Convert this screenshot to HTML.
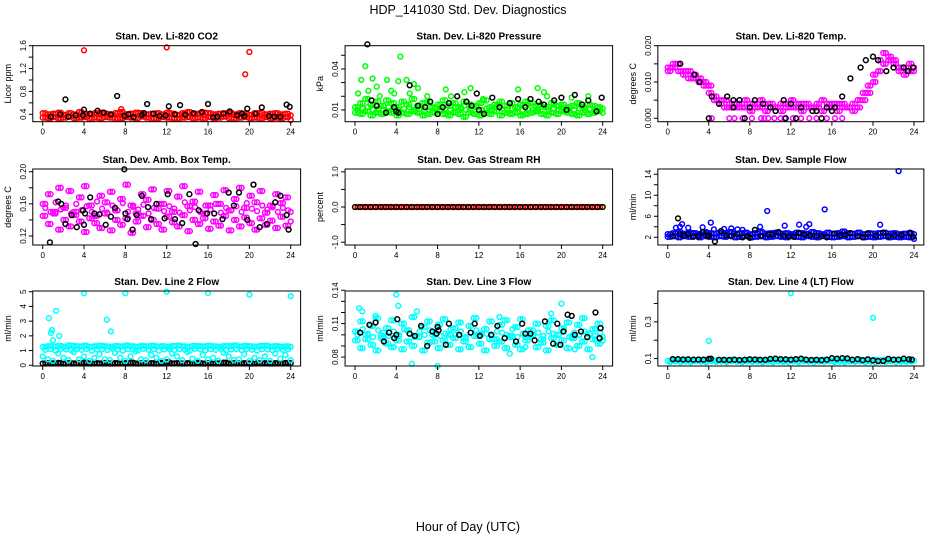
<!DOCTYPE html>
<html><head><meta charset="utf-8"><style>
html,body{margin:0;padding:0;background:#fff;}
svg{display:block;font-family:"Liberation Sans",sans-serif;}
</style></head><body>
<svg id="chart" width="936" height="540" viewBox="0 0 936 540" xmlns="http://www.w3.org/2000/svg">
<text x="468" y="14" text-anchor="middle" font-size="12.5">HDP_141030  Std. Dev. Diagnostics</text>
<text x="468" y="531" text-anchor="middle" font-size="12.5">Hour of Day (UTC)</text>
</svg>
<script>
const xTicks=[0,4,8,12,16,20,24];
// Panel 1 CO2
const co2RedA=[0.42,0.40,0.41,0.43,0.39,0.42,0.40,0.44,0.41,0.40,0.42,0.43,0.41,0.39,0.42,0.44,0.40,0.41,0.43,0.42,0.40,0.41,0.42,0.40,0.43,0.41,0.39,0.42,0.44,0.40,0.41,0.43,0.42,0.40,0.41,0.42,0.43,0.40,0.42,0.41,0.39,0.42,0.43,0.40,0.41,0.42,0.40,0.41,0.38];
const co2RedB=[0.34,0.33,0.35,0.32,0.34,0.36,0.33,0.34,0.35,0.32,0.34,0.33,0.35,0.34,0.32,0.33,0.35,0.34,0.33,0.36,0.34,0.32,0.33,0.35,0.34,0.33,0.32,0.34,0.35,0.33,0.34,0.32,0.35,0.33,0.34,0.36,0.33,0.32,0.34,0.35,0.33,0.34,0.32,0.35,0.33,0.34,0.33,0.35,0.30];
const co2OutH=[4,12,19.6,20,7.6];
const co2OutV=[1.52,1.57,1.1,1.49,0.49];
const co2BlackH=[0.8,1.7,2.2,2.5,3.2,3.9,4.0,4.6,5.3,5.9,6.6,7.2,7.9,8.3,8.8,9.6,9.8,10.1,10.7,11.3,11.9,12.2,12.8,13.3,13.8,14.6,15.4,16.0,16.5,16.9,17.5,18.1,18.8,19.3,19.5,19.8,20.6,21.2,21.9,22.4,23.0,23.6,23.9];
const co2BlackV=[0.36,0.40,0.66,0.36,0.38,0.38,0.48,0.41,0.46,0.43,0.40,0.72,0.37,0.40,0.35,0.39,0.42,0.58,0.41,0.37,0.38,0.54,0.40,0.56,0.39,0.42,0.44,0.58,0.35,0.36,0.41,0.45,0.38,0.41,0.37,0.50,0.41,0.52,0.37,0.36,0.36,0.57,0.53];
// Panel 2 pressure
const presGreenA=[0.012,0.015,0.018,0.014,0.016,0.013,0.017,0.015,0.012,0.016,0.014,0.018,0.013,0.015,0.016,0.012,0.014,0.017,0.013,0.015,0.012,0.016,0.014,0.013,0.015,0.017,0.012,0.014,0.016,0.013,0.015,0.012,0.014,0.016,0.015,0.013,0.014,0.012,0.015,0.013,0.014,0.012,0.013,0.015,0.012,0.014,0.013,0.012,0.011];
const presGreenB=[0.008,0.007,0.009,0.006,0.008,0.007,0.009,0.008,0.006,0.008,0.007,0.009,0.008,0.006,0.007,0.008,0.009,0.007,0.006,0.008,0.007,0.005,0.008,0.007,0.006,0.008,0.007,0.009,0.006,0.008,0.007,0.008,0.006,0.007,0.008,0.009,0.007,0.006,0.008,0.007,0.009,0.008,0.007,0.006,0.008,0.007,0.008,0.009,0.008];
const presGreenMid=[0.010,0.011,0.012,0.010,0.011,0.010,0.012,0.011,0.010,0.011,0.012,0.010,0.011,0.010,0.012,0.011,0.010,0.011,0.010,0.012,0.011,0.010,0.011,0.012,0.010,0.011,0.010,0.012,0.011,0.010,0.011,0.012,0.010,0.011,0.010,0.011,0.012,0.010,0.011,0.010,0.011,0.012,0.010,0.011,0.010,0.011,0.010,0.011];
const presGreenCH=[0.3,0.6,1.0,1.3,1.7,2.1,2.4,3.1,3.5,3.8,4.2,4.4,5.0,5.3,5.7,6.1,7.0,8.8,9.3,10.6,11.2,12.4,15.8,17.7,18.3,18.6,21.0,22.6];
const presGreenCV=[0.022,0.032,0.042,0.024,0.033,0.027,0.020,0.032,0.024,0.022,0.031,0.049,0.032,0.022,0.029,0.026,0.020,0.025,0.020,0.023,0.026,0.018,0.025,0.026,0.023,0.020,0.019,0.020];
const presBlackH=[1.2,1.6,2.1,3.0,3.8,4.0,4.2,5.3,6.1,6.8,7.3,8.0,8.5,9.1,9.9,10.8,11.3,11.8,12.0,12.5,13.3,14.0,15.0,15.8,16.5,17.0,17.8,18.3,19.3,20.0,20.5,21.3,22.0,22.6,23.4,23.9];
const presBlackV=[0.058,0.017,0.013,0.008,0.012,0.009,0.008,0.028,0.013,0.012,0.016,0.007,0.012,0.015,0.020,0.016,0.013,0.022,0.010,0.007,0.019,0.012,0.015,0.018,0.012,0.018,0.016,0.014,0.017,0.019,0.010,0.021,0.014,0.017,0.009,0.019];
// Panel 3 Li-820 temp
const tempA=[0.014,0.015,0.015,0.013,0.013,0.012,0.011,0.010,0.009,0.006,0.005,0.005,0.004,0.004,0.004,0.005,0.004,0.004,0.005,0.004,0.004,0.003,0.004,0.004,0.005,0.004,0.004,0.004,0.003,0.004,0.005,0.004,0.004,0.004,0.004,0.003,0.004,0.005,0.007,0.009,0.012,0.016,0.018,0.017,0.016,0.014,0.014,0.015,0.014];
const tempB=[0.013,0.014,0.013,0.012,0.011,0.011,0.010,0.009,0.007,0.005,0.004,0.003,0.003,0.003,0.003,0.003,0.002,0.003,0.003,0.002,0.003,0.003,0.002,0.003,0.003,0.003,0.002,0.003,0.003,0.003,0.002,0.003,0.003,0.002,0.003,0.003,0.002,0.003,0.005,0.007,0.010,0.013,0.015,0.016,0.015,0.013,0.012,0.013,0.013];
const tempZeroH=[4.3,6.0,6.5,7.3,8.2,9.1,9.4,9.8,10.4,11.0,11.4,12.2,13.0,13.8,14.5,15.5,16.3,17.0];
const tempZeroV=[0,0,0,0,0,0,0,0,0,0,0,0,0,0,0,0,0,0];
const tempBlackH=[1.2,2.6,3.1,4.3,5.0,5.8,6.4,6.4,7.0,8.0,8.5,9.3,10.0,10.5,11.3,12.0,13.0,14.1,14.5,15.5,16.0,16.3,17.0,17.8,18.8,19.3,20.0,20.5,21.3,22.0,23.0,23.4,23.9,4.0,7.5,11.5,12.5,15.0];
const tempBlackV=[0.015,0.012,0.010,0.006,0.004,0.006,0.005,0.003,0.005,0.003,0.005,0.004,0.003,0.002,0.005,0.004,0.003,0.002,0.002,0.003,0.002,0.003,0.006,0.011,0.014,0.016,0.017,0.016,0.013,0.014,0.014,0.013,0.014,0,0,0,0,0];
// Panel 4 ambient box temp
const ambA=[0.160,0.172,0.148,0.180,0.155,0.176,0.150,0.168,0.182,0.158,0.145,0.170,0.162,0.175,0.152,0.166,0.184,0.158,0.148,0.172,0.165,0.178,0.154,0.160,0.176,0.150,0.169,0.182,0.157,0.163,0.175,0.148,0.158,0.171,0.160,0.177,0.152,0.166,0.180,0.155,0.170,0.162,0.176,0.149,0.158,0.172,0.161,0.168,0.150];
const ambB=[0.145,0.135,0.150,0.128,0.140,0.132,0.146,0.138,0.125,0.142,0.136,0.130,0.148,0.127,0.140,0.134,0.142,0.124,0.138,0.145,0.131,0.140,0.135,0.128,0.144,0.137,0.132,0.146,0.126,0.140,0.135,0.142,0.129,0.138,0.133,0.145,0.127,0.140,0.132,0.143,0.136,0.128,0.142,0.134,0.139,0.130,0.144,0.133,0.138];
const ambC=[0.155,0.150,0.162,0.153,0.158,0.148,0.160,0.152,0.157,0.150,0.163,0.154,0.149,0.158,0.152,0.161,0.150,0.156,0.153,0.159,0.148,0.155,0.160,0.151,0.157,0.154,0.149,0.162,0.152,0.156,0.150,0.158,0.153,0.160,0.149,0.155,0.152,0.157,0.150,0.161,0.154,0.151,0.158,0.153,0.156,0.150,0.155,0.152];
const ambBlackH=[0.7,1.5,1.8,2.2,2.8,3.3,3.9,4.0,4.1,4.6,5.0,5.5,6.1,6.6,7.0,7.9,8.0,8.2,8.7,9.1,9.6,10.2,10.5,11.0,11.8,12.1,12.8,13.5,14.2,14.8,15.1,15.9,16.6,17.4,18.0,18.5,19.0,19.8,20.4,21.0,21.7,22.5,23.0,23.6,23.8];
const ambBlackV=[0.112,0.163,0.160,0.135,0.146,0.131,0.152,0.134,0.148,0.168,0.148,0.147,0.134,0.144,0.155,0.203,0.148,0.141,0.128,0.146,0.170,0.156,0.141,0.160,0.142,0.172,0.141,0.136,0.172,0.110,0.152,0.148,0.148,0.141,0.174,0.158,0.174,0.140,0.184,0.131,0.135,0.162,0.170,0.146,0.128];
// Panel 5 RH
const rhVals=[0,0,0,0,0,0,0,0,0,0,0,0,0,0,0,0,0,0,0,0,0,0,0,0,0,0,0,0,0,0,0,0,0,0,0,0,0,0,0,0,0,0,0,0,0,0,0,0,0];
// Panel 6 sample flow
const flowA=[2.6,2.8,3.0,2.7,2.9,2.8,2.6,3.0,2.8,2.7,2.9,2.8,3.0,2.7,2.8,2.9,2.6,2.8,3.0,2.7,2.8,2.9,2.7,2.8,2.6,2.9,2.8,2.7,3.0,2.8,2.6,2.9,2.7,2.8,3.1,2.8,2.7,2.9,2.6,2.8,2.7,2.8,2.9,2.7,2.8,2.6,2.7,2.8,2.6];
const flowB=[2.1,2.2,2.0,2.2,2.1,2.3,2.0,2.2,2.1,2.0,2.2,2.1,2.3,2.0,2.1,2.2,2.0,2.1,2.2,2.0,2.1,2.2,2.1,2.0,2.2,2.1,2.0,2.2,2.1,2.0,2.2,2.1,2.0,2.1,2.2,2.0,2.1,2.2,2.0,2.1,2.0,2.1,2.2,2.0,2.1,2.0,2.1,2.0,1.7];
const flowOutH=[0.8,1.2,1.4,2.0,3.4,4.2,4.5,5.5,6.2,6.8,7.3,9.0,9.7,11.4,12.8,13.5,13.8,15.3,20.7,22.5];
const flowOutV=[3.8,4.0,4.5,3.8,3.9,4.8,3.5,3.6,3.7,3.5,3.4,4.0,7.0,4.2,4.4,4.0,4.5,7.3,4.4,14.6];
const flowBlackH=[0.5,1.0,1.2,1.6,2.0,2.5,3.0,3.4,3.9,4.0,4.6,5.2,5.7,6.2,6.8,7.3,7.8,8.0,8.5,9.1,9.8,10.2,10.8,11.3,11.8,12.3,12.8,13.3,13.9,14.5,15.0,15.5,16.2,16.8,17.3,17.8,18.5,19.0,19.5,20.3,21.0,21.5,22.1,22.8,23.6,23.9];
const flowBlackV=[2.2,5.6,2.6,2.3,2.6,2.1,2.2,3.0,2.2,2.4,1.2,3.2,2.4,2.2,2.6,2.0,2.2,1.9,3.4,2.2,2.5,2.5,3.0,2.3,2.2,2.1,2.8,2.5,2.4,2.3,2.2,2.0,2.7,2.4,2.5,2.8,2.2,2.0,2.7,2.3,2.9,2.2,2.4,2.4,2.9,2.1];
// Panel 7 line 2 flow
const line2A=[1.25,1.30,1.28,1.32,1.26,1.35,1.30,1.28,1.33,1.27,1.30,1.34,1.29,1.26,1.31,1.28,1.35,1.30,1.27,1.32,1.29,1.33,1.28,1.30,1.26,1.31,1.34,1.29,1.27,1.32,1.30,1.28,1.33,1.29,1.26,1.31,1.30,1.35,1.28,1.32,1.29,1.27,1.31,1.33,1.28,1.30,1.26,1.29,1.25];
const line2C=[1.05,1.10,1.00,1.12,1.08,1.02,1.10,1.05,1.12,1.00,1.08,1.10,1.04,1.12,1.06,1.00,1.10,1.08,1.02,1.12,1.05,1.10,1.00,1.08,1.12,1.04,1.10,1.06,1.00,1.12,1.08,1.02,1.10,1.05,1.12,1.00,1.08,1.10,1.04,1.12,1.06,1.00,1.10,1.08,1.02,1.12,1.05,1.10];
const line2B=[0.6,0.4,0.3,0.8,0.5,0.35,0.9,0.4,0.6,0.3,0.5,0.75,0.4,0.35,0.85,0.5,0.3,0.6,0.95,0.4,0.35,0.7,0.5,0.3,0.4,0.8,0.6,0.35,0.9,0.45,0.3,0.7,0.4,0.5,0.3,0.85,0.6,0.35,0.4,0.75,0.3,0.5,0.35,0.6,0.3,0.8,0.45,0.7,0.35];
const line2OutH=[0.6,0.8,0.9,1.0,1.3,1.6,4,6.2,6.6,8,12,16,20,24];
const line2OutV=[3.2,2.2,2.4,1.7,3.7,2.0,4.9,3.1,2.3,4.9,5.0,4.9,4.8,4.7];
const line2Black=[0.12,0.15,0.13,0.16,0.12,0.14,0.13,0.15,0.18,0.12,0.14,0.13,0.16,0.12,0.15,0.13,0.14,0.18,0.12,0.15,0.13,0.14,0.12,0.16,0.20,0.13,0.15,0.12,0.14,0.13,0.16,0.12,0.15,0.14,0.13,0.18,0.12,0.15,0.13,0.14,0.12,0.16,0.13,0.15,0.12,0.14,0.13,0.16,0.15];
// Panel 8 line 3 flow
const line3A=[0.103,0.112,0.096,0.108,0.115,0.099,0.106,0.113,0.095,0.110,0.104,0.116,0.098,0.107,0.112,0.094,0.109,0.114,0.100,0.106,0.111,0.097,0.108,0.115,0.101,0.105,0.112,0.096,0.109,0.113,0.099,0.107,0.114,0.098,0.104,0.110,0.096,0.108,0.113,0.100,0.106,0.111,0.097,0.109,0.115,0.101,0.105,0.110,0.098];
const line3B=[0.095,0.088,0.100,0.091,0.086,0.097,0.092,0.089,0.099,0.087,0.094,0.090,0.098,0.086,0.093,0.100,0.088,0.095,0.091,0.097,0.087,0.094,0.089,0.099,0.092,0.086,0.096,0.090,0.094,0.088,0.098,0.091,0.087,0.095,0.099,0.089,0.093,0.086,0.097,0.091,0.095,0.088,0.099,0.090,0.094,0.087,0.096,0.092,0.095];
const line3C=[0.100,0.105,0.101,0.098,0.104,0.102,0.099,0.103,0.100,0.105,0.101,0.098,0.103,0.100,0.104,0.102,0.099,0.101,0.105,0.100,0.103,0.098,0.102,0.104,0.100,0.101,0.099,0.103,0.102,0.100,0.105,0.098,0.101,0.104,0.100,0.102,0.099,0.103,0.101,0.100,0.104,0.098,0.102,0.100,0.103,0.101,0.099,0.102];
const line3OutH=[0.4,0.7,2.0,4.0,4.2,5.5,6.0,8.0,14.0,15.0,16.5,19.0,20.0,21.3,23.0];
const line3OutV=[0.124,0.121,0.117,0.136,0.126,0.074,0.121,0.072,0.116,0.083,0.089,0.119,0.128,0.087,0.080];
const line3BlackH=[0.5,1.4,2.0,2.8,3.3,3.8,4.0,4.1,5.3,5.8,6.4,7.0,7.5,7.9,8.0,8.1,8.8,9.1,10.1,11.2,11.6,12.1,13.2,13.8,14.5,15.6,16.2,16.5,17.0,17.4,18.4,19.2,19.6,19.9,20.2,20.6,21.0,21.3,21.9,22.5,23.3,23.7,23.8];
const line3BlackV=[0.102,0.109,0.111,0.094,0.102,0.097,0.100,0.114,0.101,0.099,0.108,0.090,0.103,0.101,0.107,0.104,0.091,0.110,0.100,0.102,0.110,0.099,0.100,0.108,0.097,0.094,0.110,0.101,0.101,0.095,0.112,0.092,0.110,0.091,0.103,0.118,0.117,0.100,0.103,0.098,0.120,0.097,0.106];
// Panel 9 line 4 flow
const line4A=[0.088,0.092,0.090,0.094,0.089,0.093,0.091,0.088,0.095,0.090,0.092,0.089,0.094,0.091,0.088,0.093,0.090,0.095,0.089,0.092,0.090,0.094,0.088,0.091,0.093,0.089,0.095,0.090,0.092,0.088,0.094,0.091,0.089,0.093,0.090,0.092,0.088,0.094,0.091,0.089,0.093,0.090,0.092,0.088,0.094,0.091,0.090,0.092,0.089];
const line4B=[0.082,0.085,0.080,0.084,0.081,0.086,0.083,0.080,0.085,0.082,0.084,0.081,0.086,0.083,0.080,0.085,0.082,0.084,0.079,0.083,0.081,0.085,0.082,0.080,0.084,0.081,0.085,0.083,0.080,0.084,0.082,0.085,0.081,0.083,0.080,0.084,0.082,0.085,0.081,0.083,0.080,0.084,0.082,0.085,0.081,0.083,0.082,0.084];
const line4OutH=[4.0,12.0,20.0];
const line4OutV=[0.196,0.456,0.322];
const line4BlackH=[0.5,1.0,1.5,2.0,2.5,3.0,3.5,4.0,4.2,5.0,5.5,6.0,6.5,7.0,7.5,8.0,8.5,9.0,9.5,10.0,10.5,11.0,11.5,12.0,12.5,13.0,13.5,14.0,14.5,15.0,15.5,16.0,16.5,17.0,17.5,18.0,18.5,19.0,19.5,20.0,20.5,21.0,21.5,22.0,22.5,23.0,23.5,23.8];
const line4BlackV=[0.097,0.097,0.095,0.096,0.094,0.095,0.094,0.098,0.100,0.093,0.093,0.092,0.094,0.092,0.093,0.096,0.095,0.093,0.093,0.098,0.099,0.097,0.096,0.094,0.097,0.099,0.094,0.092,0.093,0.091,0.094,0.102,0.099,0.102,0.101,0.094,0.097,0.091,0.096,0.090,0.087,0.087,0.098,0.094,0.094,0.099,0.096,0.094];

const NS="http://www.w3.org/2000/svg";
const svg=document.getElementById('chart');
const colX0=[42.7,355,667.7], colX24=[290.7,602.7,914];
const rowTop=[45.7,169,291], rowBot=[121.7,245,366];
function halfHours(n){const a=[];for(let i=0;i<n;i++)a.push(i*0.5);return a;}
function offHours(n){const a=[];for(let i=0;i<n;i++)a.push(i*0.5+0.25);return a;}

function panel(col,row,title,ylab,ymin,ymax,yticks,ylabels,series,key){
  const x0=colX0[col],x24=colX24[col];
  const sx=h=>x0+(x24-x0)*h/24;
  const L=sx(-0.96),R=sx(24.96),T=rowTop[row],B=rowBot[row];
  const sy=v=>B-(v-ymin)/(ymax-ymin)*(B-T);
  const g=document.createElementNS(NS,'g');
  
  
  svg.appendChild(g);
  const t=document.createElementNS(NS,'text');
  t.setAttribute('x',(L+R)/2);t.setAttribute('y',T-6);t.setAttribute('text-anchor','middle');
  t.setAttribute('font-size','10');t.setAttribute('font-weight','bold');t.textContent=title;
  
  
  g.appendChild(t);
  const yl=document.createElementNS(NS,'text');
  const yc=(T+B)/2;
  yl.setAttribute('x',L-22);yl.setAttribute('y',yc);yl.setAttribute('text-anchor','middle');
  yl.setAttribute('font-size','9');yl.setAttribute('transform','rotate(-90 '+(L-22)+' '+yc+')');
  yl.textContent=ylab;
  
  
  g.appendChild(yl);
  // series
  series.forEach(s=>{
    const n=Math.min(s.h.length,s.v.length);
    for(let i=0;i<n;i++){
      const c=document.createElementNS(NS,'circle');
      c.setAttribute('cx',sx(s.h[i]).toFixed(1));c.setAttribute('cy',sy(s.v[i]).toFixed(1));
      c.setAttribute('r','2.4');c.setAttribute('fill','none');c.setAttribute('stroke',s.c);c.setAttribute('stroke-width','1.5');
      
      
      g.appendChild(c);
    }
  });
  const box=document.createElementNS(NS,'rect');
  box.setAttribute('x',L);box.setAttribute('y',T);box.setAttribute('width',R-L);box.setAttribute('height',B-T);
  box.setAttribute('fill','none');box.setAttribute('stroke','#000');box.setAttribute('stroke-width','1');
  
  
  g.appendChild(box);
  xTicks.forEach(h=>{
    const ln=document.createElementNS(NS,'line');
    ln.setAttribute('x1',sx(h));ln.setAttribute('x2',sx(h));ln.setAttribute('y1',B);ln.setAttribute('y2',B+4);ln.setAttribute('stroke','#000');
    
    
    g.appendChild(ln);
    const tx=document.createElementNS(NS,'text');
    tx.setAttribute('x',sx(h));tx.setAttribute('y',B+13);tx.setAttribute('text-anchor','middle');tx.setAttribute('font-size','8');
    tx.textContent=h;
    
    
    g.appendChild(tx);
  });
  yticks.forEach((v,i)=>{
    const y=sy(v);
    const ln=document.createElementNS(NS,'line');
    ln.setAttribute('x1',L-4);ln.setAttribute('x2',L);ln.setAttribute('y1',y);ln.setAttribute('y2',y);ln.setAttribute('stroke','#000');
    
    
    g.appendChild(ln);
    if(ylabels[i]){
      const tx=document.createElementNS(NS,'text');
      tx.setAttribute('x',L-7);tx.setAttribute('y',y);tx.setAttribute('text-anchor','middle');tx.setAttribute('font-size','8');
      tx.setAttribute('transform','rotate(-90 '+(L-7)+' '+y+')');
      tx.textContent=ylabels[i];
      
      
      g.appendChild(tx);
    }
  });
}
const H=halfHours(49), H2=offHours(48);
panel(0,0,'Stan. Dev. Li-820 CO2','Licor ppm',0.27,1.6,[0.4,0.6,0.8,1.0,1.2,1.4,1.6],['0.4','','0.8','','1.2','','1.6'],
 [{h:H,v:co2RedA,c:'#ff0000'},{h:H2,v:co2RedB,c:'#ff0000'},{h:H2,v:co2RedA,c:'#ff0000'},{h:H,v:co2RedB,c:'#ff0000'},{h:co2OutH,v:co2OutV,c:'#ff0000'},{h:co2BlackH,v:co2BlackV,c:'#000'}],'co2');
panel(1,0,'Stan. Dev. Li-820 Pressure','kPa',0.0014,0.057,[0.01,0.02,0.03,0.04,0.05],['0.01','','','0.04',''],
 [{h:H,v:presGreenA,c:'#00ff00'},{h:H2,v:presGreenMid,c:'#00ff00'},{h:H,v:presGreenB,c:'#00ff00'},{h:H2,v:presGreenA,c:'#00ff00'},{h:H2,v:presGreenB,c:'#00ff00'},{h:presGreenCH,v:presGreenCV,c:'#00ff00'},{h:presBlackH,v:presBlackV,c:'#000'}],'pressure');
panel(2,0,'Stan. Dev. Li-820 Temp.','degrees C',-0.00094,0.020,[0,0.005,0.010,0.015,0.020],['0.000','','0.010','','0.020'],
 [{h:H,v:tempA,c:'#ff00ff'},{h:H2,v:tempB,c:'#ff00ff'},{h:H,v:tempB,c:'#ff00ff'},{h:H2,v:tempA,c:'#ff00ff'},{h:tempZeroH,v:tempZeroV,c:'#ff00ff'},{h:tempBlackH,v:tempBlackV,c:'#000'}],'li820-temp');
panel(0,1,'Stan. Dev. Amb. Box Temp.','degrees C',0.1088,0.2034,[0.12,0.14,0.16,0.18,0.20],['0.12','','0.16','','0.20'],
 [{h:H,v:ambA,c:'#ff00ff'},{h:H2,v:ambB,c:'#ff00ff'},{h:H2,v:ambC,c:'#ff00ff'},{h:H,v:ambB,c:'#ff00ff'},{h:H2,v:ambA,c:'#ff00ff'},{h:ambBlackH,v:ambBlackV,c:'#000'}],'amb-box-temp');
panel(1,1,'Stan. Dev. Gas Stream RH','percent',-1.08,1.08,[-1,-0.5,0,0.5,1],['-1.0','','0.0','','1.0'],
 [{h:H,v:rhVals,c:'#ffff00'},{h:H2,v:rhVals,c:'#ff0000'},{h:H,v:rhVals,c:'#000'}],'gas-rh');
panel(2,1,'Stan. Dev. Sample Flow','ml/min',0.53,15,[2,4,6,8,10,12,14],['2','','6','','10','','14'],
 [{h:H,v:flowA,c:'#0000ff'},{h:H2,v:flowB,c:'#0000ff'},{h:H,v:flowB,c:'#0000ff'},{h:H2,v:flowA,c:'#0000ff'},{h:flowOutH,v:flowOutV,c:'#0000ff'},{h:flowBlackH,v:flowBlackV,c:'#000'}],'sample-flow');
panel(0,2,'Stan. Dev. Line 2 Flow','ml/min',-0.05,5.05,[0,1,2,3,4,5],['0','1','2','3','4','5'],
 [{h:H,v:line2Black,c:'#000'},{h:H2,v:line2Black,c:'#000'},{h:H,v:line2A,c:'#00ffff'},{h:H2,v:line2A,c:'#00ffff'},{h:H2,v:line2C,c:'#00ffff'},{h:H,v:line2B,c:'#00ffff'},{h:line2OutH,v:line2OutV,c:'#00ffff'}],'line2-flow');
panel(1,2,'Stan. Dev. Line 3 Flow','ml/min',0.072,0.1393,[0.08,0.09,0.10,0.11,0.12,0.13,0.14],['0.08','','','0.11','','','0.14'],
 [{h:H,v:line3A,c:'#00ffff'},{h:H2,v:line3B,c:'#00ffff'},{h:H2,v:line3C,c:'#00ffff'},{h:H,v:line3B,c:'#00ffff'},{h:H2,v:line3A,c:'#00ffff'},{h:line3OutH,v:line3OutV,c:'#00ffff'},{h:line3BlackH,v:line3BlackV,c:'#000'}],'line3-flow');
panel(2,2,'Stan. Dev. Line 4 (LT) Flow','ml/min',0.0595,0.468,[0.1,0.2,0.3,0.4],['0.1','','0.3',''],
 [{h:H,v:line4A,c:'#00ffff'},{h:H2,v:line4B,c:'#00ffff'},{h:H2,v:line4A,c:'#00ffff'},{h:line4OutH,v:line4OutV,c:'#00ffff'},{h:line4BlackH,v:line4BlackV,c:'#000'}],'line4-flow');
</script>
</body></html>
